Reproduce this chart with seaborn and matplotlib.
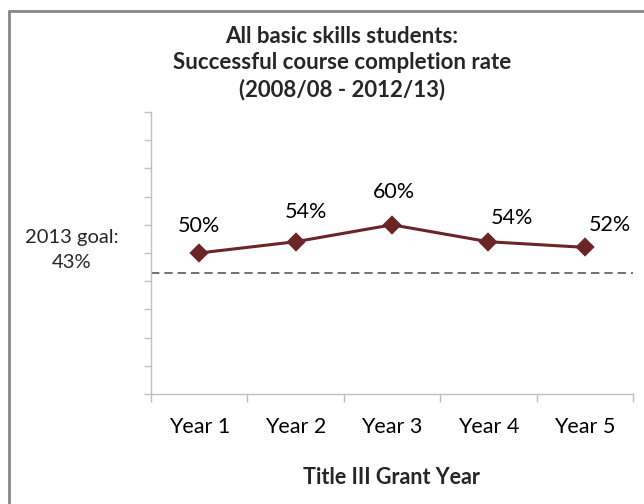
import matplotlib
matplotlib.use("Agg")
import matplotlib.pyplot as plt
from matplotlib.lines import Line2D
from matplotlib.ticker import MultipleLocator, FixedLocator, NullFormatter
import seaborn as sns

# Data
years = ["Year 1", "Year 2", "Year 3", "Year 4", "Year 5"]
completion_rate = [0.50, 0.54, 0.60, 0.54, 0.52]
goal_rate = 0.43
goal_label = "2013 goal:\n43%"
title_lines = ["All basic skills students:",
               "Successful course completion rate",
               "(2008/08 - 2012/13)"]
x_title = "Title III Grant Year"

sns.set_style("white")
plt.rcParams["font.family"] = ["Lato", "DejaVu Sans"]

line_color = "#6B2526"
axis_color = "#BFBFBF"

fig = plt.figure(figsize=(6.44, 5.04), dpi=100)
ax = fig.add_axes([151 / 644, 110 / 504, 482 / 644, 282 / 504])

sns.pointplot(x=years, y=completion_rate, ax=ax, color=line_color,
              markers="D", markersize=8.5, linewidth=2.2)

ax.axhline(goal_rate, color="#595959", linestyle=(0, (5, 3)), linewidth=1.2,
           zorder=1)

ax.set_xlim(-0.5, len(years) - 0.5)
ax.set_ylim(0, 1)

# Axes styling
for side in ["top", "right"]:
    ax.spines[side].set_visible(False)
for side in ["left", "bottom"]:
    ax.spines[side].set_color(axis_color)
    ax.spines[side].set_linewidth(1.0)

ax.yaxis.set_major_locator(MultipleLocator(0.1))
ax.yaxis.set_major_formatter(NullFormatter())
ax.tick_params(axis="y", which="major", direction="out", length=5,
               color=axis_color, width=1.0, left=True)

ax.tick_params(axis="x", which="major", length=0, labelsize=15.5,
               pad=16.5, labelcolor="#000000")
ax.xaxis.set_minor_locator(FixedLocator([i - 0.5 for i in range(len(years) + 1)]))
ax.tick_params(axis="x", which="minor", direction="out", length=6,
               color=axis_color, width=1.0, bottom=True)
ax.set_xlabel("")
ax.set_ylabel("")

# Axis title
fig.text(391 / 644, 1 - 478 / 504, x_title, ha="center", va="center",
         fontsize=15.5, fontweight="bold")

# Value labels
label_offsets = [(0, 21), (10, 24), (2, 27), (24, 18), (25, 16)]
for i, (v, off) in enumerate(zip(completion_rate, label_offsets)):
    ax.annotate(f"{v:.0%}", (i, v), xytext=off, textcoords="offset pixels",
                ha="center", va="baseline", fontsize=15.5, color="#000000")

# Goal annotation to the left of the axis
fig.text(72 / 644, 1 - 250 / 504, goal_label, ha="center", va="center",
         fontsize=14.5, linespacing=1.6)

# Chart title
fig.text(342 / 644, 1 - 63 / 504, "\n".join(title_lines), ha="center",
         va="center", fontsize=16, fontweight="bold", linespacing=1.32)

# Chart area border (top and left edges)
fig.add_artist(Line2D([8.5 / 644, 1.0], [1 - 11 / 504, 1 - 11 / 504],
                      transform=fig.transFigure, color="#878787", linewidth=2))
fig.add_artist(Line2D([8.5 / 644, 8.5 / 644], [0.0, 1 - 11 / 504],
                      transform=fig.transFigure, color="#878787", linewidth=2))

fig.savefig("out.png", dpi=100)
